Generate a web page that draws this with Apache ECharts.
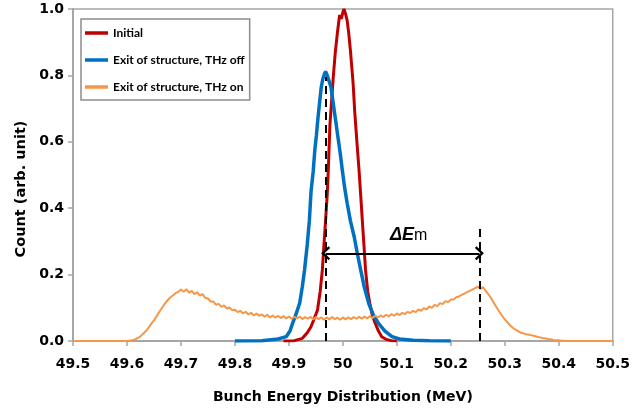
<!DOCTYPE html>
<html>
<head>
<meta charset="utf-8">
<script src="https://cdn.jsdelivr.net/npm/echarts@6/dist/echarts.min.js"></script>
<style>
  html, body { margin: 0; padding: 0; background: #fff; }
  #chart { width: 633px; height: 414px; }
</style>
</head>
<body>
<div id="chart"></div>
<script>
// x axis ticks
var xMin = 49.5, xMax = 50.5, xStep = 0.1;
var yMin = 0, yMax = 1.0, yStep = 0.2;

var seriesNames = ['Initial', 'Exit of structure, THz off', 'Exit of structure, THz on'];

// Initial bunch
var initialEnergy = [49.89, 49.910, 49.925, 49.934, 49.941, 49.947, 49.953, 49.958, 49.962, 49.965,
  49.968, 49.971, 49.973, 49.976, 49.979, 49.982, 49.986, 49.990, 49.994, 49.997,
  50.000, 50.002, 50.005, 50.008, 50.011, 50.014, 50.019, 50.022, 50.026, 50.030,
  50.033, 50.036, 50.039, 50.042, 50.046, 50.050, 50.055, 50.060, 50.066, 50.072,
  50.080, 50.090, 50.100];
var initialCount = [0, 0.001, 0.008, 0.025, 0.043, 0.068, 0.093, 0.150, 0.214, 0.290,
  0.364, 0.440, 0.514, 0.650, 0.720, 0.790, 0.870, 0.930, 0.982, 0.970,
  0.990, 1.000, 0.985, 0.965, 0.925, 0.875, 0.776, 0.690, 0.600, 0.514,
  0.440, 0.364, 0.290, 0.214, 0.150, 0.113, 0.075, 0.053, 0.030, 0.013,
  0.005, 0.001, 0];

// exit, THz off
var offEnergy = [49.80, 49.850, 49.880, 49.895, 49.902, 49.907, 49.913, 49.920, 49.925, 49.929,
  49.934, 49.938, 49.941, 49.945, 49.948, 49.951, 49.954, 49.957, 49.960, 49.963,
  49.966, 49.968, 49.971, 49.975, 49.978, 49.981, 49.984, 49.987, 49.990, 49.993,
  49.996, 49.999, 50.003, 50.008, 50.014, 50.021, 50.027, 50.033, 50.040, 50.048,
  50.056, 50.066, 50.078, 50.091, 50.105, 50.130, 50.160, 50.200];
var offCount = [0, 0.001, 0.006, 0.013, 0.030, 0.054, 0.080, 0.114, 0.165, 0.214,
  0.290, 0.364, 0.45, 0.51, 0.574, 0.62, 0.674, 0.72, 0.765, 0.79,
  0.805, 0.812, 0.80, 0.78, 0.765, 0.73, 0.694, 0.66, 0.624, 0.59,
  0.554, 0.514, 0.465, 0.415, 0.362, 0.314, 0.262, 0.214, 0.160, 0.113,
  0.080, 0.053, 0.030, 0.013, 0.006, 0.002, 0.001, 0];

// exit, THz on (histogram bins of 0.005 MeV starting at 49.5)
var onStart = 49.5, onBin = 0.005;
var onCount = [
  0, 0, 0, 0, 0, 0, 0, 0, 0, 0,
  0, 0, 0, 0, 0, 0, 0, 0, 0, 0,
  0.000, 0.001, 0.002, 0.005, 0.009, 0.014, 0.022, 0.030, 0.040, 0.052,
  0.062, 0.075, 0.088, 0.100, 0.112, 0.122, 0.131, 0.137, 0.144, 0.148,
  0.155, 0.148, 0.156, 0.146, 0.151, 0.141, 0.147, 0.137, 0.141, 0.130,
  0.128, 0.119, 0.119, 0.109, 0.112, 0.103, 0.107, 0.098, 0.101, 0.093,
  0.094, 0.087, 0.091, 0.083, 0.088, 0.080, 0.085, 0.077, 0.083, 0.076,
  0.080, 0.073, 0.079, 0.071, 0.077, 0.070, 0.076, 0.069, 0.075, 0.068,
  0.074, 0.067, 0.073, 0.068, 0.074, 0.066, 0.072, 0.067, 0.073, 0.065,
  0.072, 0.066, 0.071, 0.064, 0.071, 0.065, 0.072, 0.066, 0.070, 0.064,
  0.071, 0.065, 0.071, 0.066, 0.072, 0.067, 0.073, 0.067, 0.074, 0.068,
  0.075, 0.069, 0.076, 0.071, 0.077, 0.072, 0.079, 0.074, 0.081, 0.076,
  0.083, 0.078, 0.085, 0.081, 0.088, 0.084, 0.091, 0.087, 0.095, 0.091,
  0.099, 0.095, 0.104, 0.100, 0.109, 0.105, 0.114, 0.111, 0.120, 0.117,
  0.125, 0.125, 0.132, 0.134, 0.139, 0.143, 0.147, 0.151, 0.155, 0.159,
  0.164, 0.157, 0.162, 0.150, 0.140, 0.128, 0.114, 0.101, 0.088, 0.076,
  0.065, 0.056, 0.047, 0.040, 0.034, 0.029, 0.025, 0.023, 0.020, 0.019,
  0.017, 0.015, 0.013, 0.011, 0.009, 0.008, 0.006, 0.005, 0.003, 0.002,
  0.002, 0.001, 0.001, 0, 0, 0, 0, 0, 0, 0,
  0, 0, 0, 0, 0, 0, 0, 0, 0, 0, 0
];

// annotation: peak positions and arrow height
var peakOff = 49.968, peakOn = 50.253;
var arrowY = 0.264;
var dashTopOff = 0.795, dashTopOn = 0.34;
var labelPos = [50.122, 0.318];

function pairs(xs, ys) {
  var out = [];
  for (var i = 0; i < xs.length; i++) out.push([xs[i], ys[i]]);
  return out;
}
var onData = onCount.map(function (v, i) {
  return [+(onStart + i * onBin).toFixed(3), v];
});

var chart = echarts.init(document.getElementById('chart'), null, { renderer: 'canvas' });

var tickFont = 'DejaVu Sans';
var dash = { color: '#000', width: 2, type: [8, 5] };
var chevron = 'path://M0,10 L10,0 L20,10 L17.5,12 L10,4.5 L2.5,12 Z';

chart.setOption({
  animation: false,
  backgroundColor: '#fff',
  grid: {
    left: 73, right: 15, top: 9, bottom: 73,
    show: true, borderColor: '#a6a6a6', borderWidth: 1.5
  },
  legend: {
    data: [
      { name: seriesNames[0], icon: 'rect' },
      { name: seriesNames[1], icon: 'rect' },
      { name: seriesNames[2], icon: 'rect' }
    ],
    orient: 'vertical',
    left: 81, top: 19,
    padding: [7, 5, 6, 4],
    itemGap: 13,
    itemWidth: 23,
    itemHeight: 3.5,
    itemTextGap: 2,
    borderColor: '#8c8c8c',
    borderWidth: 1.5,
    textStyle: {
      fontFamily: '"Liberation Sans Narrow", Lato',
      fontWeight: 'bold', fontSize: 12, color: '#000', lineHeight: 14
    }
  },
  xAxis: {
    type: 'value',
    min: xMin, max: xMax, interval: xStep,
    name: 'Bunch Energy Distribution (MeV)',
    nameLocation: 'middle',
    nameGap: 49,
    nameTextStyle: { fontFamily: tickFont, fontWeight: 'bold', fontSize: 14, color: '#000' },
    axisLine: { lineStyle: { color: '#a6a6a6', width: 2 } },
    axisTick: { inside: false, length: 5, lineStyle: { color: '#a6a6a6', width: 1.5 } },
    axisLabel: {
      margin: 16,
      fontFamily: tickFont, fontWeight: 'bold', fontSize: 14, color: '#000',
      formatter: function (v) { return String(Math.round(v * 10) / 10); }
    },
    splitLine: { show: false }
  },
  yAxis: {
    type: 'value',
    min: yMin, max: yMax, interval: yStep,
    name: 'Count (arb. unit)',
    nameLocation: 'middle',
    nameGap: 42,
    nameTextStyle: {
      fontFamily: tickFont, fontWeight: 'bold', fontSize: 14.5, color: '#000',
      padding: [0, 28, 0, 0]
    },
    axisLine: { show: true, lineStyle: { color: '#a6a6a6', width: 2 } },
    axisTick: { show: true, inside: false, length: 5, lineStyle: { color: '#a6a6a6', width: 1.5 } },
    axisLabel: {
      margin: 9,
      fontFamily: tickFont, fontWeight: 'bold', fontSize: 14, color: '#000',
      formatter: function (v) { return v.toFixed(1); }
    },
    splitLine: { show: false }
  },
  series: [
    {
      name: seriesNames[0], type: 'line', showSymbol: false, symbol: 'none',
      data: pairs(initialEnergy, initialCount),
      lineStyle: { color: '#c00000', width: 3 },
      itemStyle: { color: '#c00000' }
    },
    {
      name: seriesNames[1], type: 'line', showSymbol: false, symbol: 'none',
      data: pairs(offEnergy, offCount),
      lineStyle: { color: '#0070c0', width: 3.5 },
      itemStyle: { color: '#0070c0' }
    },
    {
      name: seriesNames[2], type: 'line', showSymbol: false, symbol: 'none',
      data: onData,
      lineStyle: { color: '#f79646', width: 2 },
      itemStyle: { color: '#f79646' }
    },
    {
      name: 'annotation', type: 'line', data: [], silent: true,
      markLine: {
        silent: true, animation: false,
        label: { show: false },
        data: [
          [{ coord: [peakOff, 0], symbol: 'none', lineStyle: dash },
           { coord: [peakOff, dashTopOff], symbol: 'none' }],
          [{ coord: [peakOn, 0], symbol: 'none', lineStyle: dash },
           { coord: [peakOn, dashTopOn], symbol: 'none' }],
          [{ coord: [peakOff, arrowY], symbol: chevron, symbolSize: [14, 9],
             lineStyle: { color: '#000', width: 2, type: 'solid' } },
           { coord: [peakOn, arrowY], symbol: chevron, symbolSize: [14, 9] }]
        ]
      },
      markPoint: {
        silent: true, animation: false,
        symbolSize: 0,
        data: [{
          coord: labelPos,
          label: {
            show: true, position: 'inside',
            formatter: '{a|ΔE}{b|m}',
            rich: {
              a: { fontFamily: 'Liberation Sans', fontStyle: 'italic', fontWeight: 'bold', fontSize: 18, color: '#000' },
              b: { fontFamily: 'Liberation Sans', fontSize: 16, color: '#000' }
            }
          }
        }]
      }
    }
  ]
});
</script>
</body>
</html>
